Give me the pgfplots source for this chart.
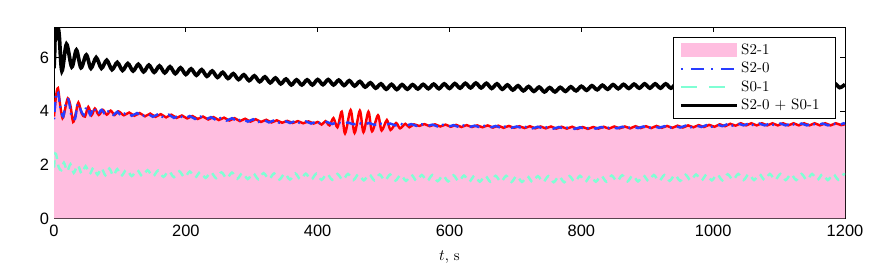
\documentclass[border=0pt]{standalone}
\usepackage{pgfplots}
\usepackage{pgfplotstable}
\pgfplotsset{compat=1.18}
\usepackage{fontspec}
\newfontfamily\ticksf{Liberation Sans}
\newcommand\tickfont{\ticksf\fontsize{11.5}{13}\selectfont}
\definecolor{s21}{RGB}{255,190,224}
\definecolor{s20}{RGB}{40,60,255}
\definecolor{s01}{RGB}{127,255,212}

\pgfplotstableread{
t y
0 3.80
3 4.55
6 4.86
9 4.30
13 3.74
17 4.10
21 4.48
25 4.20
29 3.60
33 3.92
37 4.32
42 3.92
47 3.80
52 4.16
57 3.85
62 4.10
68 3.86
74 4.05
80 3.87
86 4.02
92 3.86
98 3.99
106 3.85
114 3.95
122 3.83
130 3.93
138 3.81
146 3.91
154 3.79
162 3.89
170 3.77
178 3.87
186 3.75
194 3.84
202 3.73
210 3.82
218 3.71
226 3.80
234 3.69
242 3.78
250 3.67
258 3.76
266 3.65
274 3.74
282 3.63
290 3.72
298 3.61
306 3.70
314 3.60
322 3.68
330 3.58
338 3.66
346 3.57
354 3.64
362 3.56
370 3.63
378 3.55
386 3.62
394 3.54
400 3.60
406 3.50
412 3.63
418 3.47
424 3.74
430 3.40
436.5 3.98
441.5 3.17
450 4.04
456 3.19
464 4.02
469.5 3.22
477 3.98
482.5 3.25
491.5 3.85
497 3.28
505 3.67
510.5 3.30
519 3.56
525 3.36
533 3.53
539 3.40
546 3.51
554 3.45
562 3.52
570 3.44
578 3.51
586 3.43
594 3.50
602 3.42
610 3.49
618 3.41
626 3.48
634 3.41
642 3.47
650 3.40
658 3.47
666 3.39
674 3.46
682 3.38
690 3.45
698 3.38
706 3.44
714 3.37
722 3.44
730 3.36
738 3.43
746 3.36
754 3.43
762 3.35
770 3.42
778 3.35
786 3.42
794 3.34
802 3.41
810 3.34
818 3.41
826 3.35
834 3.42
842 3.35
850 3.43
858 3.36
866 3.43
874 3.36
882 3.44
890 3.37
898 3.44
906 3.37
914 3.45
922 3.38
930 3.45
938 3.38
946 3.46
954 3.39
962 3.47
970 3.40
978 3.48
986 3.41
994 3.49
1002 3.42
1010 3.51
1018 3.44
1026 3.53
1034 3.46
1042 3.55
1050 3.47
1058 3.55
1066 3.47
1074 3.55
1082 3.47
1090 3.55
1098 3.47
1106 3.55
1114 3.47
1122 3.55
1130 3.47
1138 3.55
1146 3.47
1154 3.55
1162 3.47
1170 3.55
1178 3.47
1186 3.55
1194 3.48
1200 3.52
}\tabSTwoOne

\pgfplotstableread{
t y
0 3.70
3 4.60
6 4.72
10 4.10
14 3.80
18 4.30
22 4.42
27 3.78
32 3.72
36 4.28
41 4.02
45 3.86
50 4.18
55 3.86
60 4.12
66 3.88
72 4.05
78 3.88
84 4.02
90 3.86
96 3.98
102 3.84
110 3.95
118 3.83
126 3.93
134 3.81
142 3.91
150 3.79
158 3.89
166 3.77
174 3.87
182 3.75
190 3.84
198 3.73
206 3.82
214 3.71
222 3.80
230 3.69
238 3.78
246 3.67
254 3.76
262 3.65
270 3.74
278 3.63
286 3.72
294 3.61
302 3.70
310 3.60
318 3.68
326 3.58
334 3.66
342 3.57
350 3.64
358 3.56
366 3.63
374 3.55
382 3.62
390 3.54
398 3.61
406 3.53
414 3.60
422 3.52
430 3.59
438 3.52
446 3.58
454 3.51
462 3.57
470 3.50
478 3.56
486 3.49
494 3.55
502 3.48
510 3.54
518 3.47
526 3.53
534 3.46
542 3.52
550 3.45
558 3.51
566 3.44
574 3.50
582 3.43
590 3.49
598 3.42
606 3.48
614 3.41
622 3.47
630 3.41
638 3.46
646 3.40
654 3.46
662 3.39
670 3.45
678 3.38
686 3.44
694 3.38
702 3.43
710 3.37
718 3.43
726 3.36
734 3.42
742 3.36
750 3.42
758 3.35
766 3.41
774 3.35
782 3.41
790 3.34
798 3.40
806 3.34
814 3.40
822 3.35
830 3.41
838 3.35
846 3.42
854 3.36
862 3.42
870 3.36
878 3.43
886 3.37
894 3.43
902 3.37
910 3.44
918 3.38
926 3.44
934 3.38
942 3.45
950 3.39
958 3.46
966 3.40
974 3.47
982 3.41
990 3.48
998 3.42
1006 3.50
1014 3.44
1022 3.52
1030 3.46
1038 3.54
1046 3.47
1054 3.54
1062 3.47
1070 3.54
1078 3.47
1086 3.54
1094 3.47
1102 3.54
1110 3.47
1118 3.54
1126 3.47
1134 3.54
1142 3.47
1150 3.54
1158 3.47
1166 3.54
1174 3.47
1182 3.54
1190 3.48
1198 3.55
1200 3.53
}\tabSTwoZero

\pgfplotstableread{
t y
0 1.90
2 2.42
4 2.30
7 1.92
11 1.80
15 2.08
20 1.76
25 2.02
30 1.70
36 1.99
42 1.67
48 1.95
54 1.65
60 1.90
66 1.63
72 1.88
78 1.61
84 1.86
90 1.59
96 1.84
102 1.58
110 1.82
118 1.58
126 1.81
134 1.57
142 1.80
150 1.56
158 1.79
166 1.55
174 1.77
182 1.54
190 1.76
198 1.53
206 1.75
214 1.52
222 1.74
230 1.51
238 1.73
246 1.50
254 1.72
262 1.49
270 1.71
278 1.48
286 1.70
294 1.47
302 1.69
310 1.46
318 1.69
326 1.46
334 1.68
342 1.45
350 1.68
358 1.45
366 1.68
374 1.45
382 1.67
390 1.44
398 1.67
406 1.44
414 1.67
422 1.44
430 1.66
438 1.43
446 1.66
454 1.43
462 1.65
470 1.42
478 1.65
486 1.42
494 1.64
502 1.41
510 1.64
518 1.41
526 1.63
534 1.40
542 1.63
550 1.40
558 1.62
566 1.39
574 1.62
582 1.39
590 1.61
598 1.38
606 1.61
614 1.38
622 1.60
630 1.37
638 1.60
646 1.37
654 1.60
662 1.37
670 1.59
678 1.36
686 1.59
694 1.36
702 1.59
710 1.36
718 1.58
726 1.35
734 1.58
742 1.35
750 1.58
758 1.35
766 1.58
774 1.35
782 1.58
790 1.36
798 1.59
806 1.36
814 1.59
822 1.37
830 1.60
838 1.37
846 1.60
854 1.38
862 1.61
870 1.38
878 1.61
886 1.38
894 1.61
902 1.39
910 1.62
918 1.39
926 1.62
934 1.40
942 1.63
950 1.40
958 1.63
966 1.41
974 1.64
982 1.41
990 1.64
998 1.42
1006 1.65
1014 1.42
1022 1.65
1030 1.43
1038 1.66
1046 1.43
1054 1.66
1062 1.43
1070 1.66
1078 1.43
1086 1.66
1094 1.43
1102 1.66
1110 1.43
1118 1.66
1126 1.43
1134 1.66
1142 1.43
1150 1.66
1158 1.43
1166 1.66
1174 1.43
1182 1.66
1190 1.44
1198 1.65
1200 1.62
}\tabSZeroOne

\pgfplotstableread{
t y
0 5.60
1 6.20
2 7.13
4 6.85
6 7.13
8 6.80
12 5.50
19 6.50
27 5.65
34 6.28
41 5.62
49 6.10
56 5.60
64 6.00
72 5.60
80 5.90
88 5.55
96 5.82
104 5.52
112 5.78
120 5.50
128 5.75
136 5.47
144 5.72
152 5.45
160 5.69
168 5.43
176 5.66
184 5.40
192 5.62
200 5.37
208 5.58
216 5.34
224 5.55
232 5.30
240 5.50
248 5.26
256 5.45
264 5.22
272 5.40
280 5.18
288 5.36
296 5.14
304 5.32
312 5.10
320 5.28
328 5.06
336 5.24
344 5.02
352 5.20
360 4.98
368 5.17
376 4.98
384 5.17
392 4.98
400 5.18
408 4.99
416 5.18
424 4.98
432 5.16
440 4.96
448 5.14
456 4.94
464 5.11
472 4.90
480 5.06
488 4.86
496 5.02
504 4.82
512 5.00
520 4.81
528 4.99
536 4.82
544 4.99
552 4.83
560 5.00
568 4.84
576 5.01
584 4.84
592 5.02
600 4.85
608 5.03
616 4.86
624 5.04
632 4.87
640 5.05
648 4.87
656 5.04
664 4.85
672 5.02
680 4.82
688 4.98
696 4.79
704 4.95
712 4.76
720 4.92
728 4.74
736 4.90
744 4.72
752 4.88
760 4.72
768 4.89
776 4.74
784 4.91
792 4.76
800 4.93
808 4.78
816 4.95
824 4.80
832 4.97
840 4.82
848 4.99
856 4.84
864 5.00
872 4.85
880 5.01
888 4.86
896 5.02
904 4.86
912 5.02
920 4.86
928 5.02
936 4.86
944 5.02
952 4.87
960 5.03
968 4.87
976 5.03
984 4.88
992 5.04
1000 4.89
1008 5.06
1016 4.90
1024 5.07
1032 4.91
1040 5.08
1048 4.92
1056 5.08
1064 4.92
1072 5.08
1080 4.92
1088 5.08
1096 4.91
1104 5.07
1112 4.90
1120 5.06
1128 4.89
1136 5.05
1144 4.88
1152 5.04
1160 4.88
1168 5.04
1176 4.88
1184 5.04
1192 4.88
1200 5.00
}\tabSum

\begin{document}
\begin{tikzpicture}
\useasboundingbox (-37.8pt,-36.75pt) rectangle (572.6pt,152.9pt);
\begin{axis}[
  scale only axis,
  width=553.7pt, height=133.8pt,
  xmin=0, xmax=1200, ymin=0, ymax=7.13,
  xtick={0,200,...,1200}, ytick={0,2,4,6},
  tick align=inside,
  major tick length=3.5pt,
  every tick/.style={black, line width=0.6pt},
  axis line style={line width=0.6pt},
  /pgf/number format/assume math mode=true,
  /pgf/number format/1000 sep={},
  xticklabel style={font=\tickfont, yshift=-0.8pt},
  yticklabel style={font=\tickfont},
  xlabel={$t$, s},
  xlabel style={font=\fontsize{10.5}{12}\selectfont, yshift=-3.5pt},
  legend cell align=left,
  legend style={at={(1,1)}, anchor=north east, xshift=-6.3pt, yshift=-6.8pt,
    draw=black, line width=0.7pt, font=\fontsize{10.5}{12}\selectfont,
    inner xsep=4pt, inner ysep=2.5pt, row sep=0pt},
  legend image code/.code={\draw[#1] (0pt,0pt) -- (39pt,0pt);},
]
\addplot[fill=s21, draw=none, smooth, tension=0.5,
  legend image code/.code={\fill[s21] (0pt,-4.9pt) rectangle (39pt,4.9pt);}]
  table[x=t,y=y] {\tabSTwoOne} \closedcycle;
\addlegendentry{\makebox[60pt][l]{S2-1}}
\addplot[red, line width=1.7pt, smooth, tension=0.5, forget plot] table[x=t,y=y] {\tabSTwoOne};
\addplot[s20, line width=1.7pt, smooth, tension=0.5, dash pattern=on 1.2pt off 4pt on 7pt off 3pt,
  legend image code/.code={\draw[s20, line width=1.7pt, dash pattern=on 1.2pt off 6pt on 9pt off 5pt] (0pt,0pt) -- (39pt,0pt);}]
  table[x=t,y=y] {\tabSTwoZero};
\addlegendentry{S2-0}
\addplot[s01, line width=1.7pt, smooth, tension=0.5, dash pattern=on 5pt off 4pt,
  legend image code/.code={\draw[s01, line width=1.7pt, dash pattern=on 11pt off 9pt] (0pt,0pt) -- (39pt,0pt);}]
  table[x=t,y=y] {\tabSZeroOne};
\addlegendentry{S0-1}
\addplot[black, line width=2.6pt, smooth, tension=0.5] table[x=t,y=y] {\tabSum};
\addlegendentry{S2-0 + S0-1}
\end{axis}
\end{tikzpicture}
\end{document}
